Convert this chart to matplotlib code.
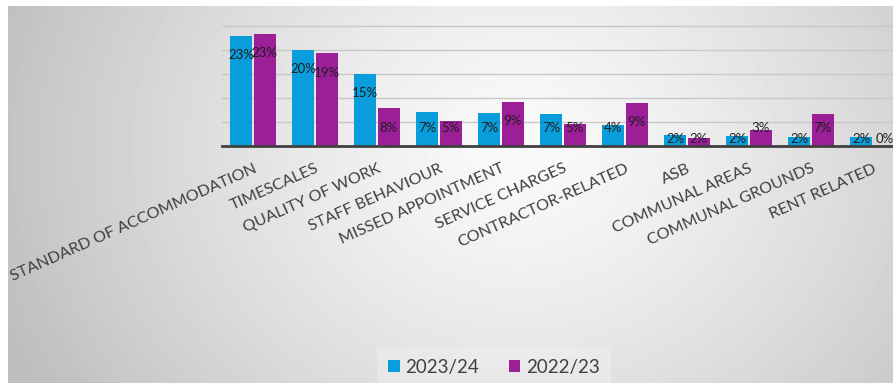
import numpy as np
import matplotlib.pyplot as plt

# Complaint categories and shares (%)
categories = ['STANDARD OF ACCOMMODATION', 'TIMESCALES', 'QUALITY OF WORK',
              'STAFF BEHAVIOUR', 'MISSED APPOINTMENT', 'SERVICE CHARGES',
              'CONTRACTOR-RELATED', 'ASB', 'COMMUNAL AREAS',
              'COMMUNAL GROUNDS', 'RENT RELATED']
share_2324 = [23.0, 20.0, 15.0, 7.1, 6.8, 6.6, 4.3, 2.2, 2.0, 1.9, 1.9]
share_2223 = [23.3, 19.3, 7.8, 5.2, 9.2, 4.6, 8.9, 1.7, 3.3, 6.6, 0.0]
series_names = ['2023/24', '2022/23']

BLUE = '#0a9ddb'
PURPLE = '#9c1f98'
W, H = 893, 383

fig = plt.figure(figsize=(W / 100, H / 100), dpi=100)
fig.patch.set_facecolor('white')

# grey radial backdrop of the chart area
bg = fig.add_axes([8 / W, 0, (W - 8) / W, (H - 6) / H], zorder=0)
yy, xx = np.mgrid[6:H, 8:W]
d = np.sqrt(((xx - 520) / 1.0) ** 2 + ((yy - 150) / 0.85) ** 2)
shade = np.clip(250 - 58 * (d / 540) ** 1.3, 190, 250) / 255
bg.imshow(shade, cmap='gray', vmin=0, vmax=1, aspect='auto',
          extent=[0, 1, 0, 1], interpolation='bilinear')
bg.axis('off')

px_per_pct = 4.78
base_y = 145.7
ymax = 25.5
ax = fig.add_axes([222 / W, (H - base_y) / H, 682 / W, ymax * px_per_pct / H],
                  zorder=1)
ax.patch.set_alpha(0)

x = np.arange(len(categories))
bw = 0.36
off = 0.19
ax.bar(x - off, share_2324, bw, color=BLUE, label=series_names[0], zorder=2)
ax.bar(x + off, share_2223, bw, color=PURPLE, label=series_names[1], zorder=2)


def label_y(v):
    return max(v - 4, 3.8) if v >= 3 else 1.5


for xs, vals in ((x - off, share_2324), (x + off, share_2223)):
    for xi, v in zip(xs, vals):
        ax.text(xi, label_y(v), f'{v:.0f}%', ha='center', va='center',
                fontsize=9.5, family='Lato', color='#1e1e1e', zorder=3)

ax.set_xlim(-0.5, len(categories) - 0.5)
ax.set_ylim(0, ymax)
ax.set_yticks([5, 10, 15, 20, 25])
ax.yaxis.grid(True, color='#c8c8c8', linewidth=1)
ax.set_axisbelow(True)
ax.tick_params(left=False, labelleft=False, bottom=False)
for s in ('top', 'right', 'left'):
    ax.spines[s].set_visible(False)
ax.spines['bottom'].set_color('#404040')
ax.spines['bottom'].set_linewidth(2)

ax.set_xticks(x)
ax.set_xticklabels(categories, rotation=24, ha='right', va='top',
                   rotation_mode='anchor', fontsize=11.6, family='Lato',
                   color='#404040')
ax.tick_params(axis='x', pad=8)

leg = fig.legend(loc='center', bbox_to_anchor=(494 / W, 1 - 367 / H),
                 ncol=2, frameon=True, handlelength=0.6,
                 handleheight=0.6, handletextpad=0.3, columnspacing=1.6,
                 prop={'family': 'Lato', 'size': 13.5})
leg.get_frame().set_facecolor('#f0f0f0')
leg.get_frame().set_alpha(0.5)
leg.get_frame().set_edgecolor('none')
leg.get_frame().set_boxstyle('square', pad=0.2)
for t in leg.get_texts():
    t.set_color('#404040')

fig.savefig('out.png', dpi=100)
